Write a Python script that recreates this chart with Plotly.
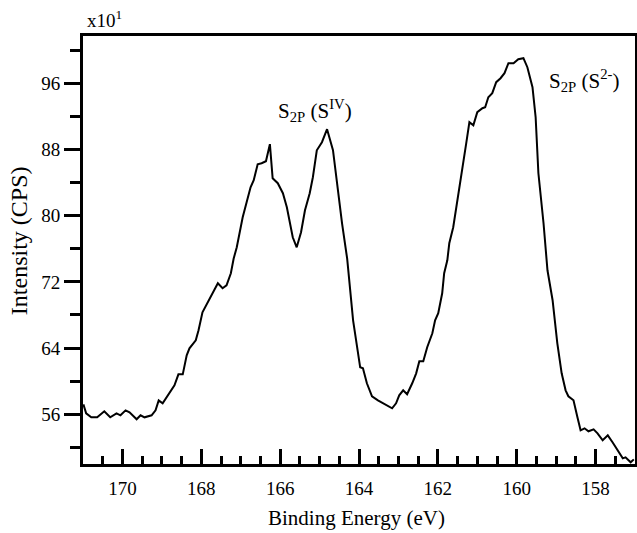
import plotly.graph_objects as go

# Binding energy (eV) and intensity (x10 CPS)
energy = [170.99, 170.92, 170.79, 170.64, 170.46, 170.31, 170.15, 170.05, 169.92, 169.82,
          169.64, 169.54, 169.44, 169.26, 169.16, 169.08, 168.98, 168.80, 168.68, 168.58,
          168.47, 168.37, 168.30, 168.14, 168.07, 167.97, 167.84, 167.71, 167.58, 167.46,
          167.36, 167.25, 167.18, 167.10, 167.03, 166.95, 166.85, 166.75, 166.67, 166.57,
          166.47, 166.36, 166.26, 166.19, 166.06, 165.93, 165.83, 165.75, 165.68, 165.58,
          165.47, 165.37, 165.25, 165.17, 165.07, 164.94, 164.81, 164.66, 164.56, 164.43,
          164.30, 164.22, 164.15, 163.97, 163.90, 163.80, 163.67, 163.52, 163.29, 163.16,
          163.06, 162.98, 162.88, 162.78, 162.65, 162.55, 162.47, 162.37, 162.27, 162.14,
          162.07, 161.99, 161.89, 161.84, 161.76, 161.71, 161.61, 161.51, 161.38, 161.28,
          161.20, 161.10, 161.00, 160.87, 160.80, 160.72, 160.62, 160.52, 160.41, 160.31,
          160.21, 160.08, 159.96, 159.83, 159.73, 159.60, 159.52, 159.45, 159.32, 159.22,
          159.09, 158.97, 158.86, 158.76, 158.69, 158.56, 158.46, 158.38, 158.28, 158.18,
          158.05, 157.95, 157.82, 157.69, 157.57, 157.44, 157.31, 157.24, 157.11, 157.03]
intensity = [57.21, 56.12, 55.64, 55.64, 56.36, 55.64, 56.12, 55.88, 56.48, 56.24,
             55.40, 55.88, 55.64, 55.88, 56.48, 57.69, 57.33, 58.54, 59.50, 60.83,
             60.83, 63.13, 63.98, 64.94, 66.15, 68.33, 69.53, 70.74, 71.83, 71.23,
             71.59, 73.04, 74.80, 76.18, 77.87, 79.81, 81.62, 83.43, 84.28, 86.21,
             86.33, 86.57, 88.63, 84.52, 83.92, 82.71, 81.01, 79.08, 77.39, 76.18,
             77.99, 80.65, 82.71, 84.64, 87.90, 88.87, 90.44, 87.90, 83.92, 79.08,
             74.80, 70.40, 67.36, 61.68, 61.56, 59.75, 58.18, 57.69, 57.09, 56.73,
             57.33, 58.30, 58.90, 58.42, 59.75, 60.95, 62.40, 62.40, 64.10, 65.79,
             67.36, 68.21, 70.62, 73.04, 74.61, 76.66, 78.60, 81.86, 85.49, 88.75,
             91.29, 90.92, 92.50, 92.98, 93.10, 94.31, 94.79, 96.12, 96.60, 97.21,
             98.42, 98.42, 98.90, 99.02, 97.93, 95.52, 91.89, 85.12, 79.08, 73.40,
             69.78, 64.58, 60.95, 58.90, 58.18, 57.69, 55.64, 54.07, 54.31, 53.95,
             54.19, 53.70, 52.86, 53.46, 52.62, 51.65, 50.68, 50.80, 50.20, 50.56]

x_range = [171, 157]
y_range = [50, 101.7]

FONT = "Liberation Serif, Times New Roman, serif"

fig = go.Figure()
fig.add_trace(go.Scatter(x=energy, y=intensity, mode="lines",
                         line=dict(color="black", width=2), showlegend=False))

fig.update_layout(
    width=637, height=533,
    margin=dict(l=83, r=2, t=36, b=69),
    paper_bgcolor="white", plot_bgcolor="white",
    font=dict(family=FONT, size=19, color="black"),
    xaxis=dict(range=x_range, showgrid=False, zeroline=False, automargin=False,
               showline=True, linecolor="black", linewidth=3, mirror=True,
               ticks="inside", ticklen=15, tickwidth=3, tickcolor="black",
               tick0=170, dtick=2, ticklabelstandoff=5,
               minor=dict(ticks="inside", ticklen=8, tickwidth=3, tickcolor="black", dtick=0.5),
               tickfont=dict(family=FONT, size=19)),
    yaxis=dict(range=y_range, showgrid=False, zeroline=False, automargin=False,
               showline=True, linecolor="black", linewidth=3, mirror=True,
               ticks="outside", ticklen=16, tickwidth=3, tickcolor="black",
               tick0=56, dtick=8,
               minor=dict(ticks="outside", ticklen=10, tickwidth=3, tickcolor="black", dtick=4),
               tickfont=dict(family=FONT, size=19)),
    annotations=[
        dict(text="Binding Energy (eV)", xref="paper", yref="paper", x=0.4955, y=-0.126,
             xanchor="center", yanchor="middle", showarrow=False, font=dict(size=21)),
        dict(text="Intensity (CPS)", xref="paper", yref="paper", x=-0.1157, y=0.521,
             xanchor="center", yanchor="middle", textangle=-90, showarrow=False, font=dict(size=24)),
        dict(text="x10<sup>1</sup>", xref="paper", yref="paper", x=0.0036, y=1.04,
             xanchor="left", yanchor="middle", showarrow=False, font=dict(size=19)),
        dict(text="S<sub>2P</sub> (S<sup>IV</sup>)", xref="paper", yref="paper", x=0.349, y=0.827,
             xanchor="left", yanchor="middle", showarrow=False, font=dict(size=21)),
        dict(text="S<sub>2P</sub> (S<sup>2-</sup>)", xref="paper", yref="paper", x=0.841, y=0.897,
             xanchor="left", yanchor="middle", showarrow=False, font=dict(size=21)),
    ],
)

fig.write_html("out.html", config={"displayModeBar": False})

# remove the browser's default page margin so the figure fills the window
with open("out.html", "r", encoding="utf-8") as f:
    html = f.read()
html = html.replace("<head>", "<head><style>html,body{margin:0;padding:0;overflow:hidden;}</style>", 1)
with open("out.html", "w", encoding="utf-8") as f:
    f.write(html)
